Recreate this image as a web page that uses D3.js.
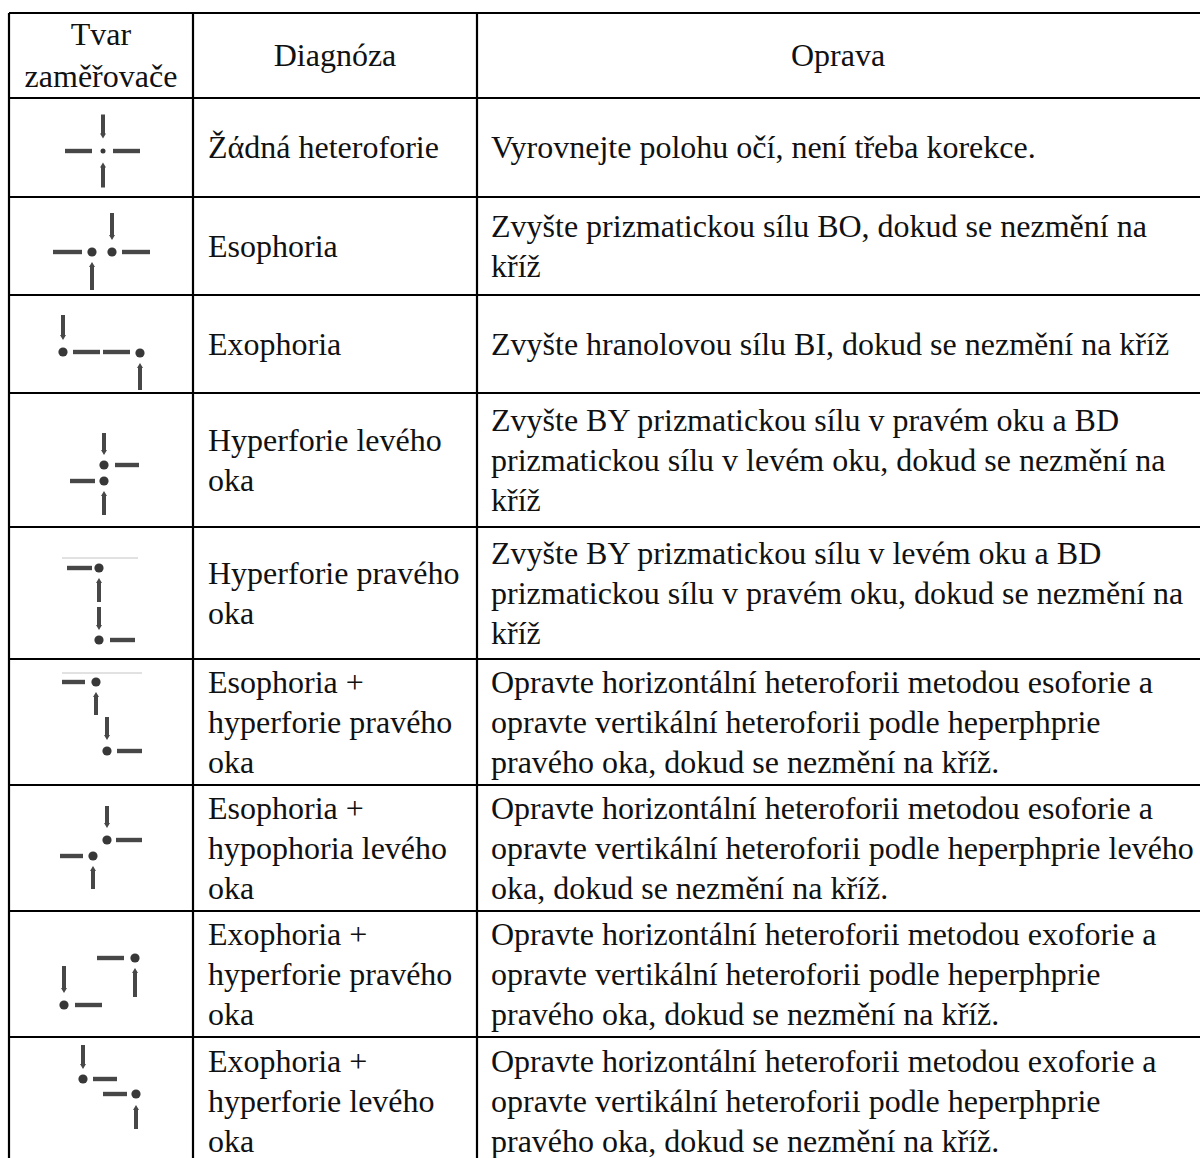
<!DOCTYPE html>
<html><head><meta charset="utf-8">
<script src="https://cdn.jsdelivr.net/npm/d3@7"></script>
<style>html,body{margin:0;padding:0;background:#fff;} svg{display:block} text{font-family:"Liberation Serif","Times New Roman",serif;}</style>
</head><body>
<script>
// ---------- data ----------
const headers = [["Tvar","zaměřovače"],["Diagnóza"],["Oprava"]];

const diagnoses = [
  ["Žάdná heteroforie"],
  ["Esophoria"],
  ["Exophoria"],
  ["Hyperforie levého","oka"],
  ["Hyperforie pravého","oka"],
  ["Esophoria +","hyperforie pravého","oka"],
  ["Esophoria +","hypophoria levého","oka"],
  ["Exophoria +","hyperforie pravého","oka"],
  ["Exophoria +","hyperforie levého","oka"]
];

const corrections = [
  ["Vyrovnejte polohu očí, není třeba korekce."],
  ["Zvyšte prizmatickou sílu BO, dokud se nezmění na","kříž"],
  ["Zvyšte hranolovou sílu BI, dokud se nezmění na kříž"],
  ["Zvyšte BY prizmatickou sílu v pravém oku a BD","prizmatickou sílu v levém oku, dokud se nezmění na","kříž"],
  ["Zvyšte BY prizmatickou sílu v levém oku a BD","prizmatickou sílu v pravém oku, dokud se nezmění na","kříž"],
  ["Opravte horizontální heteroforii metodou esoforie a","opravte vertikální heteroforii podle heperphprie","pravého oka, dokud se nezmění na kříž."],
  ["Opravte horizontální heteroforii metodou esoforie a","opravte vertikální heteroforii podle heperphprie levého","oka, dokud se nezmění na kříž."],
  ["Opravte horizontální heteroforii metodou exoforie a","opravte vertikální heteroforii podle heperphprie","pravého oka, dokud se nezmění na kříž."],
  ["Opravte horizontální heteroforii metodou exoforie a","opravte vertikální heteroforii podle heperphprie","pravého oka, dokud se nezmění na kříž."]
];

// crosshair glyphs: primitive type + offsets from the cell centre
const icons = [
  [["down",2,-33,-9],["bar",-36,-9,3.5],["dot",2,3.5,2.5],["bar",12,39,3.5],["up",2,15,40]],
  [["bar",-48,-19,6],["dot",-9,6],["dot",11,6],["bar",21,49,6],["down",11,-33,-6],["up",-9,16,44]],
  [["down",-38,-29,-4],["dot",-38,8],["bar",-28,-1,8],["bar",2,29,8],["dot",39,9],["up",39,19,46]],
  [["down",3,-27,-5],["dot",3,5],["bar",14,38,5],["bar",-31,-6,21],["dot",3,21],["up",3,31,55]],
  [["rule",-39,37,-35],["bar",-34,-9,-25],["dot",-2,-25],["up",-2,-15,9],["down",-2,14,37],["dot",-2,47],["bar",9,34,47]],
  [["rule",-39,41,-49],["bar",-39,-16,-40],["dot",-5,-40],["up",-5,-30,-7],["down",6,-5,18],["dot",6,29],["bar",16,41,29]],
  [["down",6,-42,-20],["dot",6,-8],["bar",15,41,-8],["bar",-41,-18,8],["dot",-8,8],["up",-8,18,41]],
  [["bar",-4,23,-16],["dot",34,-16],["up",34,-6,23],["down",-37,-8,19],["dot",-37,31],["bar",-26,1,31]],
  [["down",-18,-56,-32],["dot",-18,-22],["bar",-8,16,-22],["bar",2,26,-7],["dot",35,-7],["up",35,4,28]]
];

// ---------- layout ----------
const W = 1200, H = 1158;
const colEdges = [9, 193, 477, 1215];
const rowEdges = [13, 98, 197, 295, 393, 527, 659, 785, 911, 1037, 1165];
const FS = 32, LH = 40, BASE = 10.5;

const nRows = rowEdges.length - 1;
const yTop = d3.scaleOrdinal().domain(d3.range(nRows)).range(rowEdges.slice(0, -1));
const yBot = d3.scaleOrdinal().domain(d3.range(nRows)).range(rowEdges.slice(1));
const xCol = d3.scaleOrdinal().domain([0,1,2]).range(colEdges.slice(0,3));
const xColEnd = d3.scaleOrdinal().domain([0,1,2]).range(colEdges.slice(1));
const mid = i => (yTop(i) + yBot(i)) / 2;

const svg = d3.select("body").append("svg").attr("width", W).attr("height", H);

function drawLines(g, lines, x, cy, anchor, lh) {
  const n = lines.length;
  const t = g.append("text")
    .attr("font-size", FS).attr("fill", "#111")
    .attr("text-anchor", anchor);
  lines.forEach((s, k) => {
    t.append("tspan").attr("x", x)
      .attr("y", cy + BASE + (k - (n - 1) / 2) * lh)
      .text(s);
  });
}

headers.forEach((lines, c) => {
  const cx = (xCol(c) + xColEnd(c)) / 2;
  const center = c === 2 ? 838 : cx;
  drawLines(svg, lines, center, mid(0), "middle", 42);
});

diagnoses.forEach((lines, i) => {
  drawLines(svg, lines, xCol(1) + 15, mid(i + 1), "start", LH);
});
corrections.forEach((lines, i) => {
  drawLines(svg, lines, xCol(2) + 14, mid(i + 1), "start", LH);
});

const ink = "#474747";
icons.forEach((prims, i) => {
  const cx = (xCol(0) + xColEnd(0)) / 2, cy = mid(i + 1);
  const g = svg.append("g").attr("transform", `translate(${cx},${cy})`);
  prims.forEach(p => {
    const [type, a, b, c] = p;
    if (type === "bar") {
      g.append("line").attr("x1", a).attr("x2", b).attr("y1", c).attr("y2", c)
        .attr("stroke", ink).attr("stroke-width", 4.4);
    } else if (type === "rule") {
      g.append("line").attr("x1", a).attr("x2", b).attr("y1", c).attr("y2", c)
        .attr("stroke", "#c4c4c4").attr("stroke-width", 1);
    } else if (type === "dot") {
      g.append("circle").attr("cx", a).attr("cy", b).attr("r", c || 4.6).attr("fill", "#383838");
    } else if (type === "down" || type === "up") {
      const down = type === "down";
      const tip = down ? c : b, tail = down ? b : c;
      const dir = down ? 1 : -1;
      g.append("line").attr("x1", a).attr("x2", a)
        .attr("y1", tail).attr("y2", tip - dir * 4)
        .attr("stroke", ink).attr("stroke-width", 4);
      g.append("path")
        .attr("d", `M${a - 3},${tip - dir * 5}L${a + 3},${tip - dir * 5}L${a},${tip}Z`)
        .attr("fill", ink);
    }
  });
});

const grid = svg.append("g").attr("stroke", "#000").attr("stroke-width", 2.2);
rowEdges.forEach(y => {
  grid.append("line").attr("x1", colEdges[0]).attr("x2", colEdges[3]).attr("y1", y).attr("y2", y);
});
colEdges.forEach(x => {
  grid.append("line").attr("x1", x).attr("x2", x).attr("y1", rowEdges[0]).attr("y2", rowEdges[rowEdges.length - 1]);
});
</script>
</body></html>
